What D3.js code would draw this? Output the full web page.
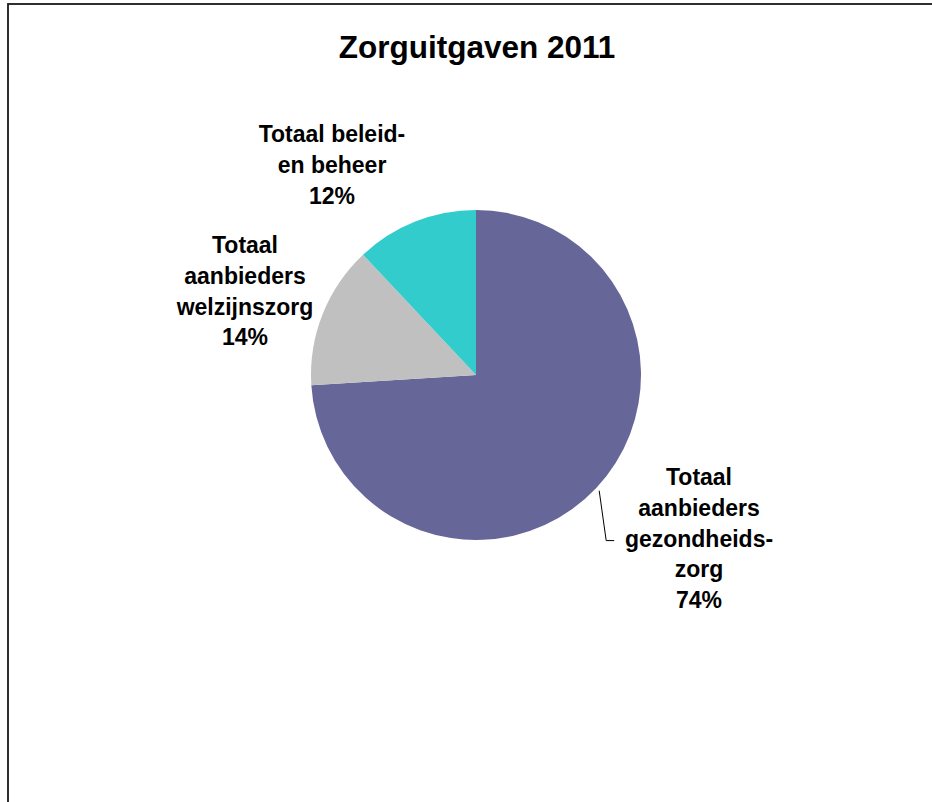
<!DOCTYPE html>
<html>
<head>
<meta charset="utf-8">
<script src="https://cdn.jsdelivr.net/npm/d3@7"></script>
<style>
  html, body { margin: 0; padding: 0; background: #fff; }
  svg { display: block; }
  text { font-family: "Liberation Sans", Arial, Helvetica, sans-serif; font-weight: bold; fill: #000; }
</style>
</head>
<body>
<script>
// Zorguitgaven 2011 — aandeel per sector
const categories = [
  ["Totaal", "aanbieders", "gezondheids-", "zorg"],
  ["Totaal", "aanbieders", "welzijnszorg"],
  ["Totaal beleid-", "en beheer"]
];
const values = [74, 14, 12];
const percentLabels = ["74%", "14%", "12%"];
const colors = ["#666699", "#C0C0C0", "#33CCCC"];

// Label block placement (centre x, first baseline y)
const labelLayout = [
  { x: 699, y: 485 },
  { x: 245, y: 253 },
  { x: 332, y: 142 }
];

const W = 932, H = 802;
const cx = 476, cy = 375, R = 165;
const lineStep = 30.8;

const svg = d3.select("body").append("svg")
  .attr("width", W).attr("height", H);

// Chart area frame
svg.append("rect")
  .attr("x", 8).attr("y", 4)
  .attr("width", 1200).attr("height", 1200)
  .attr("fill", "none")
  .attr("stroke", "#1a1a1a")
  .attr("stroke-width", 1.8);

svg.append("text")
  .attr("x", 477).attr("y", 58)
  .attr("text-anchor", "middle")
  .style("font-size", "31.5px")
  .text("Zorguitgaven 2011");

const pie = d3.pie().sort(null).value(d => d)
  .startAngle(0).endAngle(2 * Math.PI);
const arcs = pie(values);
const arc = d3.arc().innerRadius(0).outerRadius(R);

const g = svg.append("g").attr("transform", `translate(${cx},${cy})`);
g.selectAll("path").data(arcs).enter().append("path")
  .attr("d", arc)
  .attr("fill", (d, i) => colors[i]);

// Leader line for the largest slice, starting just outside its mid-angle
const a0 = arcs[0];
const mid = (a0.startAngle + a0.endAngle) / 2;
const edge = [cx + (R + 4) * Math.sin(mid), cy - (R + 4) * Math.cos(mid)];
const elbowY = labelLayout[0].y + 2 * lineStep - 6;
svg.append("path")
  .attr("d", d3.line()([edge, [edge[0] + 7, elbowY], [edge[0] + 15, elbowY]]))
  .attr("fill", "none")
  .attr("stroke", "#000")
  .attr("stroke-width", 1);

// Data labels
labelLayout.forEach((p, i) => {
  const lines = categories[i].concat([percentLabels[i]]);
  const t = svg.append("text")
    .attr("text-anchor", "middle")
    .style("font-size", "23px");
  lines.forEach((s, k) => {
    t.append("tspan")
      .attr("x", p.x)
      .attr("y", p.y + k * lineStep)
      .text(s);
  });
});
</script>
</body>
</html>
